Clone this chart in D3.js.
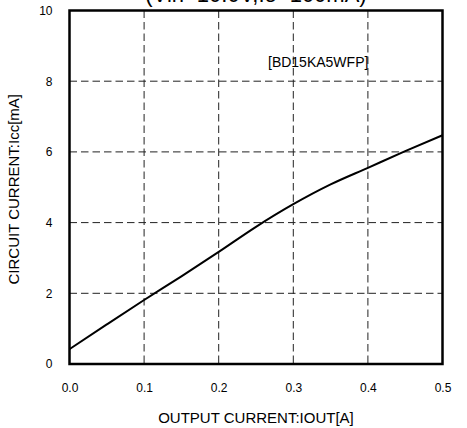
<!DOCTYPE html>
<html><head><meta charset="utf-8">
<script src="https://cdn.jsdelivr.net/npm/d3@7"></script>
<style>body{margin:0;background:#fff}svg{display:block}text{font-family:"Liberation Sans",Arial,sans-serif;fill:#000}</style>
</head><body><svg id="c" width="467" height="428"></svg>
<script>
const titleText = "(Vin=10.0V,Io=100mA)";
const xLabel = "OUTPUT CURRENT:IOUT[A]";
const yLabel = "CIRCUIT CURRENT:Icc[mA]";
const partLabel = "[BD15KA5WFP]";
const xTicks = [0, 0.1, 0.2, 0.3, 0.4, 0.5];
const yTicks = [0, 2, 4, 6, 8, 10];
const iout = [0, 0.05, 0.1, 0.15, 0.2, 0.25, 0.3, 0.35, 0.4, 0.45, 0.5];
const icc  = [0.42, 1.12, 1.81, 2.48, 3.17, 3.88, 4.52, 5.08, 5.55, 6.02, 6.47];

const svg = d3.select("#c");
const L = 69.5, R = 442.5, T = 10.5, B = 364;
const x = d3.scaleLinear().domain([0, 0.5]).range([L, R]);
const y = d3.scaleLinear().domain([0, 10]).range([B, T]);

// grid
const g = svg.append("g");
g.selectAll(".vg").data(xTicks.slice(1, -1)).join("line")
  .attr("x1", d => x(d)).attr("x2", d => x(d)).attr("y1", T).attr("y2", B)
  .attr("stroke", "#222").attr("stroke-width", 1).attr("stroke-dasharray", "7.5,4");
g.selectAll(".hg").data(yTicks.slice(1, -1)).join("line")
  .attr("y1", d => y(d)).attr("y2", d => y(d)).attr("x1", L).attr("x2", R)
  .attr("stroke", "#222").attr("stroke-width", 1).attr("stroke-dasharray", "7.5,4");

// axes (labels only)
const xa = svg.append("g").attr("transform", `translate(0,${B})`)
  .call(d3.axisBottom(x).tickValues(xTicks).tickFormat(d3.format(".1f")).tickSize(0).tickPadding(19));
const ya = svg.append("g").attr("transform", `translate(${L},0)`)
  .call(d3.axisLeft(y).tickValues(yTicks).tickFormat(d3.format("d")).tickSize(0).tickPadding(17));
[xa, ya].forEach(a => {
  a.select(".domain").remove();
  a.selectAll("text").style("font-size", "12px").style("font-family", '"Liberation Sans",Arial,sans-serif').attr("fill", "#000");
});

// curve
svg.append("path").datum(iout.map((v, i) => [v, icc[i]]))
  .attr("fill", "none").attr("stroke", "#000").attr("stroke-width", 2)
  .attr("d", d3.line().x(d => x(d[0])).y(d => y(d[1])).curve(d3.curveMonotoneX));

// frame
svg.append("rect").attr("x", L).attr("y", T).attr("width", R - L).attr("height", B - T)
  .attr("fill", "none").attr("stroke", "#000").attr("stroke-width", 2.5);

// texts
svg.append("text").attr("x", (L + R) / 2).attr("y", 2).attr("text-anchor", "middle")
  .style("font-size", "22px").text(titleText);
svg.append("text").attr("x", 268).attr("y", 67).style("font-size", "14px").text(partLabel);
svg.append("text").attr("x", (L + R) / 2).attr("y", 423).attr("text-anchor", "middle")
  .style("font-size", "15px").text(xLabel);
svg.append("text").attr("transform", `translate(19,${(T + B) / 2 + 2}) rotate(-90)`)
  .attr("text-anchor", "middle").style("font-size", "15px").text(yLabel);
</script></body></html>
